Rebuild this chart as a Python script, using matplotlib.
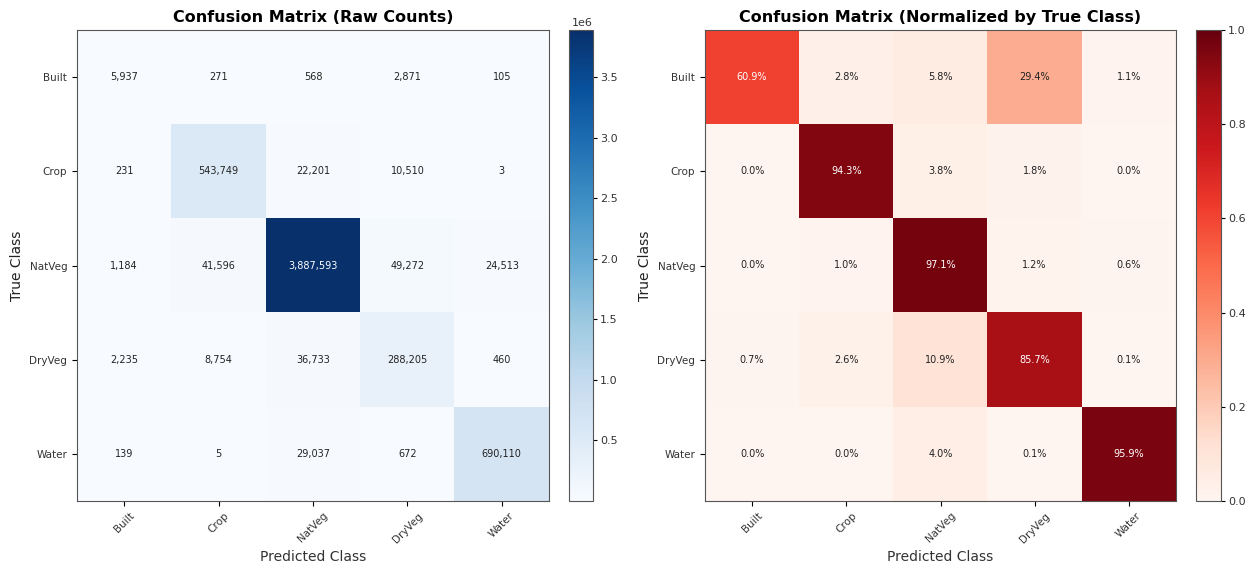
import numpy as np
import matplotlib
matplotlib.use("Agg")
import matplotlib.pyplot as plt

classes = ["Built", "Crop", "NatVeg", "DryVeg", "Water"]

# rows = true class, columns = predicted class
built_row = [5937, 271, 568, 2871, 105]
crop_row = [231, 543749, 22201, 10510, 3]
natveg_row = [1184, 41596, 3887593, 49272, 24513]
dryveg_row = [2235, 8754, 36733, 288205, 460]
water_row = [139, 5, 29037, 672, 690110]

cm = np.array([built_row, crop_row, natveg_row, dryveg_row, water_row], dtype=float)
cm_norm = cm / cm.sum(axis=1, keepdims=True)

W, H = 1256, 565
fig = plt.figure(figsize=(W / 100, H / 100), dpi=100)


def px(x0, y0, x1, y1):
    # pixel box -> figure fraction [left, bottom, width, height]
    return [x0 / W, 1 - y1 / H, (x1 - x0) / W, (y1 - y0) / H]


ax1 = fig.add_axes(px(77, 30, 549, 501))
cax1 = fig.add_axes(px(569, 30, 593, 501))
ax2 = fig.add_axes(px(705, 30, 1176, 501))
cax2 = fig.add_axes(px(1196, 30, 1221, 501))

n = len(classes)

# raw counts
im1 = ax1.imshow(cm, cmap="Blues", aspect="auto")
cb1 = fig.colorbar(im1, cax=cax1)
cb1.ax.tick_params(labelsize=8, length=3, pad=2, labelcolor="#333333")
cb1.ax.yaxis.get_offset_text().set_fontsize(8)
thresh = cm.max() / 2
for i in range(n):
    for j in range(n):
        ax1.text(j, i, f"{int(cm[i, j]):,}", ha="center", va="center", fontsize=7,
                 color="white" if cm[i, j] > thresh else "#222222")
ax1.set_title("Confusion Matrix (Raw Counts)", fontsize=11.5, fontweight="bold")

# normalized by true class
im2 = ax2.imshow(cm_norm, cmap="Reds", vmin=0, vmax=1, aspect="auto")
cb2 = fig.colorbar(im2, cax=cax2)
cb2.ax.tick_params(labelsize=8, length=3, pad=2, labelcolor="#333333")
for i in range(n):
    for j in range(n):
        ax2.text(j, i, f"{cm_norm[i, j] * 100:.1f}%", ha="center", va="center", fontsize=7,
                 color="white" if cm_norm[i, j] > 0.5 else "#222222")
ax2.set_title("Confusion Matrix (Normalized by True Class)", fontsize=11.5, fontweight="bold")

for ax in (ax1, ax2):
    ax.set_xticks(range(n))
    ax.set_yticks(range(n))
    ax.set_xticklabels(classes, rotation=45, fontsize=7.5)
    ax.set_yticklabels(classes, fontsize=7.5)
    ax.tick_params(labelcolor="#333333")
    ax.set_xlabel("Predicted Class", fontsize=10, color="#333333")
    ax.set_ylabel("True Class", fontsize=10, color="#222222")
    for s in ax.spines.values():
        s.set_color("#555555")

for cax in (cax1, cax2):
    for s in cax.spines.values():
        s.set_color("#555555")

fig.savefig("out.png", dpi=100)
